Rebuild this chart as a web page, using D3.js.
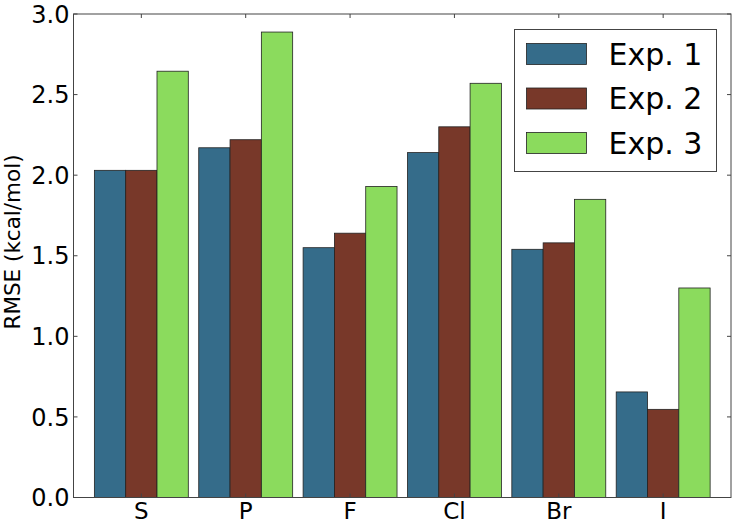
<!DOCTYPE html>
<html>
<head>
<meta charset="utf-8">
<script src="https://cdn.jsdelivr.net/npm/d3@7"></script>
<style>
  body { margin: 0; background: #fff; }
  text { font-family: "DejaVu Sans", sans-serif; fill: #000; }
</style>
</head>
<body>
<div id="chart"></div>
<script>
// data
const CATEGORIES = ["S", "P", "F", "Cl", "Br", "I"];
const SERIES = ["Exp. 1", "Exp. 2", "Exp. 3"];
const EXP1 = [2.03, 2.17, 1.55, 2.14, 1.54, 0.655];
const EXP2 = [2.03, 2.22, 1.64, 2.30, 1.58, 0.547];
const EXP3 = [2.645, 2.888, 1.93, 2.57, 1.85, 1.30];
const Y_TICKS = [0.0, 0.5, 1.0, 1.5, 2.0, 2.5, 3.0];
const COLORS = ["#356c8a", "#783829", "#8bdb5d"];

const WIDTH = 735, HEIGHT = 523;
const MARGINS = {left: 73.5, right: 4, top: 14, bottom: 25.5};
const BAR_W = 0.3;

const svg = d3.select("#chart")
  .append("svg")
    .attr("width", WIDTH)
    .attr("height", HEIGHT);

const x = d3.scaleLinear()
  .domain([-0.2, CATEGORIES.length + 0.1])
  .range([MARGINS.left, WIDTH - MARGINS.right]);

const y = d3.scaleLinear()
  .domain([0, 3])
  .range([HEIGHT - MARGINS.bottom, MARGINS.top]);

const allSeries = [EXP1, EXP2, EXP3];

// bars
allSeries.forEach((vals, s) => {
  svg.append("g")
    .selectAll("rect")
    .data(vals)
    .enter()
    .append("rect")
      .attr("x", (d, i) => x(i + s * BAR_W))
      .attr("width", x(BAR_W) - x(0))
      .attr("y", (d) => y(d))
      .attr("height", (d) => y(0) - y(d))
      .attr("fill", COLORS[s])
      .attr("stroke", "#222")
      .attr("stroke-width", 0.8);
});

// ticks (matplotlib classic: inward, on all four sides)
const x0 = MARGINS.left, x1 = WIDTH - MARGINS.right;
const y0 = HEIGHT - MARGINS.bottom, y1 = MARGINS.top;
const tickLen = 4;

const yAxis = svg.append("g");
Y_TICKS.forEach((t) => {
  yAxis.append("line")
    .attr("x1", x0).attr("x2", x0 + tickLen)
    .attr("y1", y(t)).attr("y2", y(t))
    .attr("stroke", "#444");
  yAxis.append("line")
    .attr("x1", x1).attr("x2", x1 - tickLen)
    .attr("y1", y(t)).attr("y2", y(t))
    .attr("stroke", "#444");
  yAxis.append("text")
    .attr("x", x0 - 4)
    .attr("y", y(t))
    .attr("dy", "0.36em")
    .attr("text-anchor", "end")
    .attr("font-size", 24)
    .text(t.toFixed(1));
});

const xAxis = svg.append("g");
CATEGORIES.forEach((c, i) => {
  const cx = x(i + 1.5 * BAR_W);
  xAxis.append("line")
    .attr("x1", cx).attr("x2", cx)
    .attr("y1", y0).attr("y2", y0 - tickLen)
    .attr("stroke", "#444");
  xAxis.append("line")
    .attr("x1", cx).attr("x2", cx)
    .attr("y1", y1).attr("y2", y1 + tickLen)
    .attr("stroke", "#444");
  xAxis.append("text")
    .attr("x", cx)
    .attr("y", y0 + 21.5)
    .attr("text-anchor", "middle")
    .attr("font-size", 23)
    .text(c);
});

// frame
svg.append("rect")
  .attr("x", x0).attr("y", y1)
  .attr("width", x1 - x0).attr("height", y0 - y1)
  .attr("fill", "none")
  .attr("stroke", "#444")
  .attr("stroke-width", 1);

// y label
svg.append("text")
  .attr("transform", "translate(19.5, 242) rotate(-90)")
  .attr("text-anchor", "middle")
  .attr("font-size", 21.5)
  .text("RMSE (kcal/mol)");

// legend
const legend = svg.append("g").attr("transform", "translate(514.5, 29.5)");
legend.append("rect")
  .attr("width", 202).attr("height", 142)
  .attr("fill", "#fff")
  .attr("stroke", "#444")
  .attr("stroke-width", 1);

SERIES.forEach((s, i) => {
  legend.append("rect")
    .attr("x", 12).attr("y", 14 + i * 44.5)
    .attr("width", 60).attr("height", 21)
    .attr("fill", COLORS[i])
    .attr("stroke", "#222")
    .attr("stroke-width", 0.8);
  legend.append("text")
    .attr("x", 94)
    .attr("y", 35 + i * 44.5)
    .attr("font-size", 30)
    .text(s);
});
</script>
</body>
</html>
